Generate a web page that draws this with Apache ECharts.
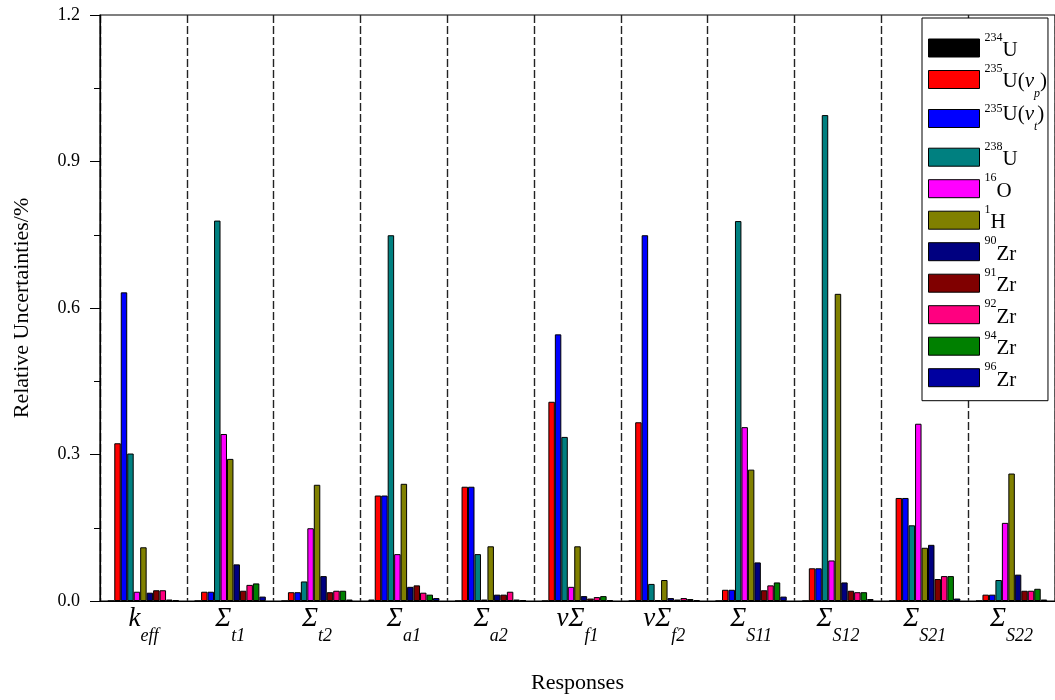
<!DOCTYPE html>
<html>
<head>
<meta charset="utf-8">
<script src="https://cdn.jsdelivr.net/npm/echarts@6/dist/echarts.min.js"></script>
<style>
html,body{margin:0;padding:0;background:#fff;}
#chart{width:1055px;height:700px;}
</style>
</head>
<body>
<div id="chart"></div>
<script>
// categories: main symbol | subscript
const categories = ['k|eff', 'Σ|t1', 'Σ|t2', 'Σ|a1', 'Σ|a2', 'νΣ|f1', 'νΣ|f2', 'Σ|S11', 'Σ|S12', 'Σ|S21', 'Σ|S22'];
const seriesNames = ['234U', '235U(νp)', '235U(νt)', '238U', '16O', '1H', '90Zr', '91Zr', '92Zr', '94Zr', '96Zr'];
const yTicks = [0, 0.3, 0.6, 0.9, 1.2];

const u234  = [0, 0, 0, 0.003, 0, 0, 0, 0, 0, 0, 0];
const u235p = [0.323, 0.019, 0.018, 0.216, 0.234, 0.408, 0.366, 0.023, 0.067, 0.211, 0.013];
const u235t = [0.632, 0.019, 0.018, 0.216, 0.234, 0.546, 0.749, 0.023, 0.067, 0.211, 0.013];
const u238  = [0.302, 0.779, 0.040, 0.749, 0.096, 0.336, 0.035, 0.778, 0.995, 0.155, 0.043];
const o16   = [0.019, 0.342, 0.149, 0.096, 0.003, 0.029, 0.002, 0.356, 0.083, 0.363, 0.160];
const h1    = [0.110, 0.291, 0.238, 0.240, 0.112, 0.112, 0.043, 0.269, 0.629, 0.109, 0.261];
const zr90  = [0.017, 0.075, 0.051, 0.029, 0.013, 0.010, 0.006, 0.079, 0.038, 0.115, 0.054];
const zr91  = [0.022, 0.021, 0.018, 0.032, 0.013, 0.005, 0.003, 0.022, 0.021, 0.045, 0.021];
const zr92  = [0.022, 0.033, 0.021, 0.017, 0.019, 0.008, 0.006, 0.032, 0.018, 0.051, 0.021];
const zr94  = [0.003, 0.036, 0.021, 0.013, 0.003, 0.010, 0.004, 0.038, 0.018, 0.051, 0.025];
const zr96  = [0.002, 0.009, 0.003, 0.006, 0.002, 0.002, 0.002, 0.009, 0.004, 0.005, 0.003];

const seriesData = [u234, u235p, u235t, u238, o16, h1, zr90, zr91, zr92, zr94, zr96];
const colors = ['#000000', '#FF0000', '#0000FF', '#008080', '#FF00FF', '#808000', '#000080', '#800000', '#FF0080', '#008000', '#0000A0'];

const SERIF = "'Liberation Serif','Times New Roman',serif";

const chart = echarts.init(document.getElementById('chart'), null, {renderer: 'canvas'});

const series = seriesNames.map((n, i) => ({
  name: n,
  type: 'bar',
  data: seriesData[i],
  barGap: '0%',
  barCategoryGap: '18%',
  itemStyle: {color: colors[i], borderColor: '#000', borderWidth: 1},
  animation: false
}));

function legendFmt(name) {
  if (name === '235U(νp)') return '{sp|235}{bp|U(}{ip|ν}{subp|p}{bp|)}';
  if (name === '235U(νt)') return '{st|235}{bt|U(}{it|ν}{subt|t}{bt|)}';
  const m = name.match(/^(\d+)(.+)$/);
  return '{s|' + m[1] + '}{b|' + m[2] + '}';
}

function tok(size, lh, pad, italic) {
  return {fontFamily: SERIF, fontStyle: italic ? 'italic' : 'normal', fontSize: size, lineHeight: lh,
          verticalAlign: 'top', padding: pad, color: '#000'};
}

const option = {
  backgroundColor: '#fff',
  animation: false,
  grid: {left: 100, top: 15, width: 961, height: 586, show: true, borderColor: '#000', borderWidth: 1.2, backgroundColor: 'transparent'},
  legend: {
    orient: 'vertical',
    left: 922, top: 18,
    padding: [10, 1, 10, 6],
    itemGap: -1.5,
    itemWidth: 51, itemHeight: 18,
    icon: 'rect',
    borderColor: '#000', borderWidth: 1,
    backgroundColor: '#fff',
    itemStyle: {borderColor: '#000', borderWidth: 1},
    data: seriesNames,
    formatter: legendFmt,
    textStyle: {
      color: '#000', fontFamily: SERIF,
      rich: {
        s: tok(12, 12, [3.5, 0, 0, 0]),
        b: tok(21, 40, [12, 0, 0, 0]),
        sp: tok(12, 12, [3.7, 0, 0, 0]),
        bp: tok(21, 40, [11.4, 0, 0, 0]),
        ip: tok(21, 40, [11.4, 0, 0, 0], true),
        subp: tok(12, 12, [28, 0, 0.5, 0], true),
        st: tok(12, 12, [4.1, 0, 0, 0]),
        bt: tok(21, 40, [5.8, 0, 0, 0]),
        it: tok(21, 40, [5.8, 0, 0, 0], true),
        subt: tok(12, 12, [22.3, 0, 5.9, 0], true)
      }
    }
  },
  xAxis: {
    type: 'category',
    data: categories,
    name: 'Responses',
    nameLocation: 'middle',
    nameGap: 71,
    nameTextStyle: {fontFamily: SERIF, fontSize: 22, color: '#000'},
    axisLine: {lineStyle: {color: '#000', width: 1.2}},
    axisTick: {show: false},
    splitLine: {show: true, interval: 0, lineStyle: {color: '#222', width: 1.4, type: [8, 3]}},
    axisLabel: {
      interval: 0,
      margin: 4,
      formatter: function (v) {
        const p = v.split('|');
        return '{m|' + p[0] + '}{sub|' + p[1] + '}';
      },
      rich: {
        m: {fontFamily: SERIF, fontStyle: 'italic', fontSize: 27, lineHeight: 30, verticalAlign: 'top', color: '#000'},
        sub: {fontFamily: SERIF, fontStyle: 'italic', fontSize: 18, lineHeight: 18, verticalAlign: 'top', padding: [22, 0, 0, 0], color: '#000'}
      }
    }
  },
  yAxis: {
    type: 'value',
    min: yTicks[0], max: yTicks[yTicks.length - 1], interval: 0.3,
    name: 'Relative Uncertainties/%',
    nameLocation: 'middle',
    nameGap: 67,
    nameTextStyle: {fontFamily: SERIF, fontSize: 22, color: '#000'},
    axisLine: {show: true, lineStyle: {color: '#000', width: 1.2}},
    axisTick: {show: true, inside: false, length: 10, lineStyle: {color: '#000'}},
    minorTick: {show: true, splitNumber: 2, length: 6, lineStyle: {color: '#000'}},
    splitLine: {show: false},
    axisLabel: {
      margin: 20,
      fontFamily: SERIF, fontSize: 18, color: '#000',
      formatter: function (v) { return v.toFixed(1); }
    }
  },
  series: series
};

chart.setOption(option);
</script>
</body>
</html>
